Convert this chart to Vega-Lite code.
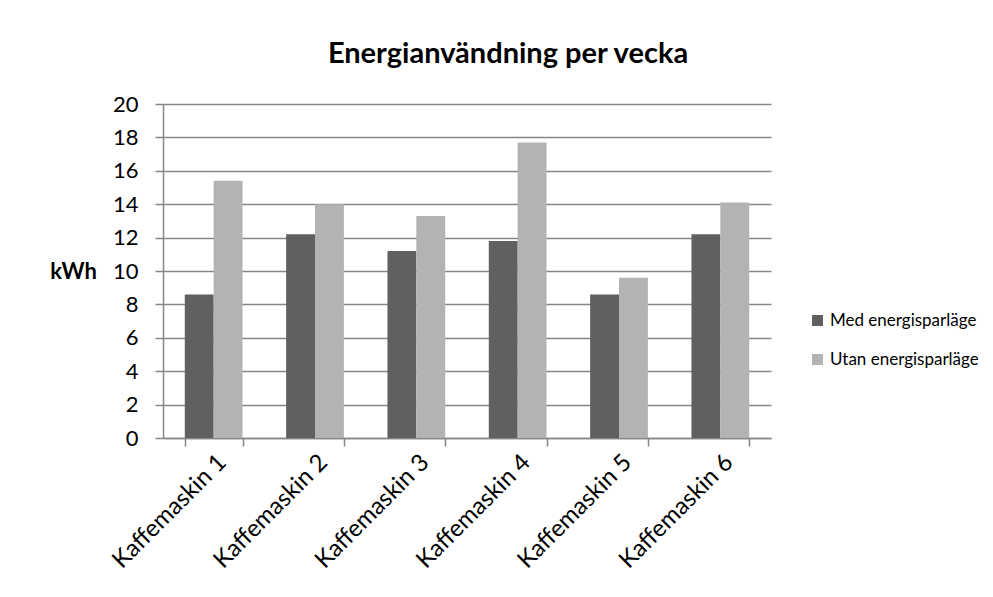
{
  "$schema": "https://vega.github.io/schema/vega-lite/v6.json",
  "autosize": {"type": "none"},
  "padding": {"left": 163, "top": 104, "right": 222, "bottom": 159},
  "width": 608,
  "height": 334,
  "background": "white",
  "config": {
    "font": "Lato",
    "view": {"stroke": null}
  },
  "title": {
    "text": "Energianvändning per vecka",
    "font": "Lato",
    "fontSize": 29,
    "fontWeight": "bold",
    "color": "#000000",
    "anchor": "middle",
    "dx": 41,
    "offset": 24
  },
  "data": {
    "values": [
      {"maskin": "Kaffemaskin 1", "serie": "Med energisparläge", "kWh": 8.6},
      {"maskin": "Kaffemaskin 1", "serie": "Utan energisparläge", "kWh": 15.4},
      {"maskin": "Kaffemaskin 2", "serie": "Med energisparläge", "kWh": 12.2},
      {"maskin": "Kaffemaskin 2", "serie": "Utan energisparläge", "kWh": 14.0},
      {"maskin": "Kaffemaskin 3", "serie": "Med energisparläge", "kWh": 11.2},
      {"maskin": "Kaffemaskin 3", "serie": "Utan energisparläge", "kWh": 13.3},
      {"maskin": "Kaffemaskin 4", "serie": "Med energisparläge", "kWh": 11.8},
      {"maskin": "Kaffemaskin 4", "serie": "Utan energisparläge", "kWh": 17.7},
      {"maskin": "Kaffemaskin 5", "serie": "Med energisparläge", "kWh": 8.6},
      {"maskin": "Kaffemaskin 5", "serie": "Utan energisparläge", "kWh": 9.6},
      {"maskin": "Kaffemaskin 6", "serie": "Med energisparläge", "kWh": 12.2},
      {"maskin": "Kaffemaskin 6", "serie": "Utan energisparläge", "kWh": 14.1}
    ]
  },
  "mark": {"type": "bar"},
  "encoding": {
    "x": {
      "field": "maskin",
      "type": "nominal",
      "scale": {"paddingInner": 0.43, "paddingOuter": 0.215},
      "axis": {
        "title": null,
        "labelAngle": -45,
        "labelAlign": "right",
        "labelBaseline": "top",
        "labelFontSize": 24,
        "labelColor": "#000000",
        "labelPadding": 4,
        "tickBand": "extent",
        "tickSize": 8,
        "tickColor": "#868686",
        "tickWidth": 1.5,
        "domainColor": "#868686",
        "domainWidth": 1.5,
        "grid": false
      }
    },
    "xOffset": {"field": "serie", "type": "nominal", "scale": {"paddingInner": 0, "paddingOuter": 0}},
    "y": {
      "field": "kWh",
      "type": "quantitative",
      "scale": {"domain": [0, 20], "nice": false},
      "axis": {
        "title": "kWh",
        "titleAngle": 0,
        "titleFontSize": 22,
        "titleFontWeight": "bold",
        "titleColor": "#000000",
        "titleAlign": "center",
        "titleBaseline": "middle",
        "titleX": -90,
        "titleY": 167,
        "values": [0, 2, 4, 6, 8, 10, 12, 14, 16, 18, 20],
        "labelFontSize": 22,
        "labelColor": "#000000",
        "labelPadding": 17,
        "tickSize": 8,
        "tickColor": "#868686",
        "tickWidth": 1.5,
        "domainColor": "#868686",
        "domainWidth": 1.5,
        "grid": true,
        "gridColor": "#868686",
        "gridWidth": 1.5
      }
    },
    "color": {
      "field": "serie",
      "type": "nominal",
      "scale": {"domain": ["Med energisparläge", "Utan energisparläge"], "range": ["#606060", "#b3b3b3"]},
      "legend": {
        "title": null,
        "orient": "none",
        "legendX": 646,
        "legendY": 208,
        "symbolType": "square",
        "symbolSize": 121,
        "symbolStrokeWidth": 0,
        "symbolOpacity": 1,
        "labelFontSize": 17,
        "labelColor": "#000000",
        "labelOffset": 4,
        "rowPadding": 21
      }
    }
  }
}
